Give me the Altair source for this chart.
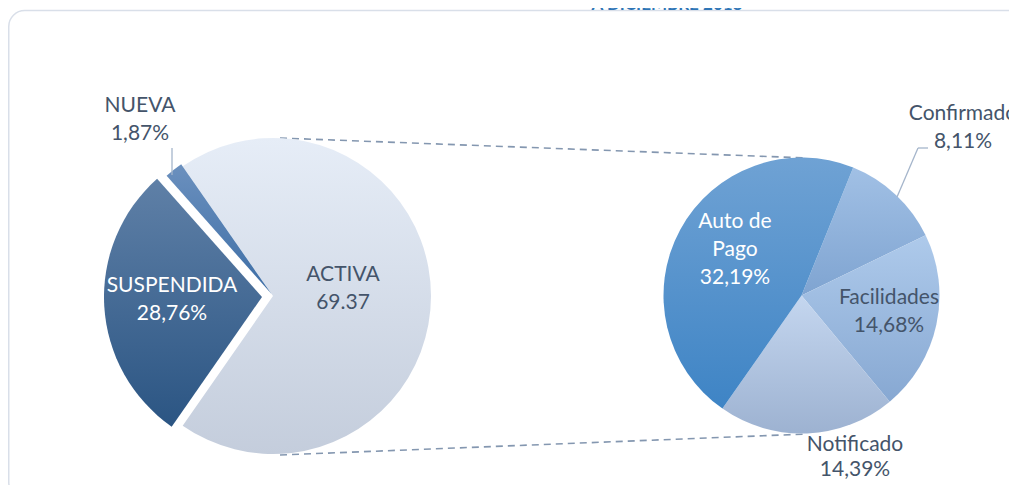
import math
import altair as alt
import pandas as pd

# ---------------- data ----------------
title_text = "A DICIEMBRE 2018"

left_cats = ["ACTIVA", "SUSPENDIDA", "NUEVA"]
left_vals = [69.37, 28.76, 1.87]
left_labels = ["69.37", "28,76%", "1,87%"]

right_cats = ["Confirmado", "Facilidades", "Notificado", "Auto de Pago"]
right_vals = [8.11, 14.68, 14.39, 32.19]
right_labels = ["8,11%", "14,68%", "14,39%", "32,19%"]

wrap = {"Auto de Pago": "Auto de\nPago"}

left_df = pd.DataFrame({"cat": left_cats, "val": left_vals, "lab": left_labels})
right_df = pd.DataFrame({"cat": right_cats, "val": right_vals, "lab": right_labels})
for df in (left_df, right_df):
    df["txt"] = [wrap.get(c, c) + "\n" + l for c, l in zip(df["cat"], df["lab"])]

total_left = sum(left_vals)
total_right = sum(right_vals)

# ---------------- layout / style ----------------
FONT = "Lato"
DARK = "#44546A"
LCX, LCY, LR = 265, 288, 158
RCX, RCY, RR = 793.5, 287.5, 138
a0_left = math.pi / 2 - math.pi * left_vals[0] / total_left
a0_right = math.radians(22)


def grad(top, bottom):
    return alt.LinearGradient(
        gradient="linear", x1=0, y1=0, x2=0, y2=1,
        stops=[alt.GradientStop(offset=0, color=top),
               alt.GradientStop(offset=1, color=bottom)])


def slice_layer(df, total, a0, cx, cy, r, cat, fill, dx=0, dy=0):
    return (
        alt.Chart(df)
        .transform_window(cum="sum(val)", frame=[None, 0])
        .transform_calculate(start="datum.cum - datum.val")
        .transform_filter(alt.datum.cat == cat)
        .mark_arc(radius=r, fill=fill, xOffset=dx, yOffset=dy)
        .encode(
            theta=alt.Theta("start:Q", scale=alt.Scale(domain=[0, total], range=[a0, a0 + 2 * math.pi])),
            theta2="cum:Q",
            x=alt.value(cx),
            y=alt.value(cy),
        )
    )


def label_layer(df, cat, x, y, color, lh=28):
    # y is the centre of the first line
    return (
        alt.Chart(df)
        .transform_filter(alt.datum.cat == cat)
        .mark_text(font=FONT, fontSize=21, lineBreak="\n", lineHeight=lh,
                   align="center", baseline="middle", color=color)
        .encode(text="txt:N", x=alt.value(x), y=alt.value(y))
    )


one = pd.DataFrame({"t": [title_text]})


def seg(x, y, x2, y2, color, width=1.5, dash=None):
    kw = dict(color=color, strokeWidth=width)
    if dash:
        kw["strokeDash"] = dash
    return alt.Chart(one).mark_rule(**kw).encode(
        x=alt.value(x), y=alt.value(y), x2=alt.value(x2), y2=alt.value(y2))


border = alt.Chart(one).mark_rect(
    cornerRadius=16, fill="transparent", stroke="#D9DFE9", strokeWidth=1.5
).encode(x=alt.value(0.75), x2=alt.value(1015), y=alt.value(2.5), y2=alt.value(490))

title = alt.Chart(one).mark_text(
    font=FONT, fontSize=17, fontWeight="bold", color="#2E75B6", align="center", baseline="alphabetic"
).encode(text="t:N", x=alt.value(659), y=alt.value(2))

layers = [
    border,
    title,
    # connectors
    seg(272, 130, 799, 150, "#8497B0", 1.6, [7, 5]),
    seg(272, 447, 799, 426, "#8497B0", 1.6, [7, 5]),
    # left pie
    slice_layer(left_df, total_left, a0_left, LCX, LCY, LR, "ACTIVA", grad("#E6EDF7", "#C4CDDC")),
    slice_layer(left_df, total_left, a0_left, LCX, LCY, LR, "SUSPENDIDA", grad("#5F80A7", "#2B5583"), dx=-11, dy=1),
    slice_layer(left_df, total_left, a0_left, LCX, LCY, LR, "NUEVA", grad("#6B90BE", "#3D6EA6"), dx=-1.5, dy=-2),
    # right pie
    slice_layer(right_df, total_right, a0_right, RCX, RCY, RR, "Confirmado", grad("#A1C0E5", "#7FA4D1")),
    slice_layer(right_df, total_right, a0_right, RCX, RCY, RR, "Facilidades", grad("#AECAEB", "#87A8D2")),
    slice_layer(right_df, total_right, a0_right, RCX, RCY, RR, "Notificado", grad("#C4D6EF", "#9DB2D1")),
    slice_layer(right_df, total_right, a0_right, RCX, RCY, RR, "Auto de Pago", grad("#6FA2D4", "#3E84C5")),
    # leader lines
    seg(164, 140, 164, 167, "#A5B5CB", 1.3),
    seg(920, 140, 910, 140, "#A5B5CB", 1.3),
    seg(910, 140, 889, 189, "#A5B5CB", 1.3),
    # labels
    label_layer(left_df, "NUEVA", 132, 98, DARK),
    label_layer(left_df, "SUSPENDIDA", 164, 278, "white"),
    label_layer(left_df, "ACTIVA", 335, 267, DARK),
    label_layer(right_df, "Auto de Pago", 727, 214, "white"),
    label_layer(right_df, "Facilidades", 881, 290, DARK),
    label_layer(right_df, "Notificado", 847, 437, DARK, lh=25),
    label_layer(right_df, "Confirmado", 955, 106, DARK),
]

chart = (
    alt.layer(*layers)
    .resolve_scale(theta="independent")
    .properties(width=1001, height=477, autosize=alt.AutoSizeParams(type="none"), padding=0,
                background="white")
    .configure_view(stroke=None)
)

chart.save("out.html", embed_options={"renderer": "svg", "actions": False})
